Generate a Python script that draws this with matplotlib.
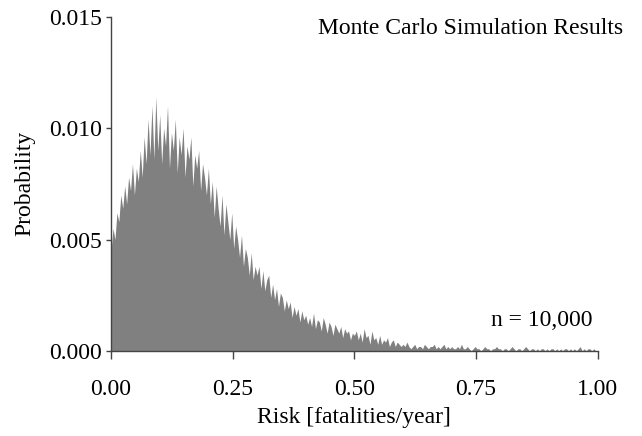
import numpy as np
import matplotlib
matplotlib.use("Agg")
import matplotlib.pyplot as plt

plt.rcParams['font.family'] = ['Liberation Serif', 'DejaVu Serif']

# risk values (bin centres) and probabilities, in units of 1e-4
risk = np.linspace(0.0, 1.0, 251)
prob_e4 = [
    45, 55, 50, 62, 58, 70, 64, 74, 66, 78, 72, 84, 70, 82, 76, 90, 78, 96, 84, 104, 88, 110, 86, 114, 90,
    106, 84, 100, 92, 110, 82, 98, 90, 104, 80, 96, 88, 100, 78, 92, 86, 96, 74, 88, 82, 90, 72, 84, 78, 70,
    82, 66, 76, 60, 74, 64, 56, 70, 52, 66, 58, 50, 62, 46, 56, 50, 42, 52, 38, 46, 42, 34, 44, 32, 38,
    34, 38, 28, 36, 27, 32, 34, 24, 30, 23, 28, 20, 26, 24, 18, 23, 19, 22, 15, 20, 16, 19, 13, 18, 14,
    16, 12, 15, 11, 17, 10, 14, 13, 9, 15, 12, 8, 13, 11, 7, 12, 10, 8, 11, 6, 10, 8, 9, 5, 8,
    7, 9, 5, 8, 4, 10, 6, 7, 3, 9, 5, 6, 3, 7, 3, 5, 4, 6, 2, 4, 5, 2, 4, 3, 2,
    3, 2, 4, 2, 1, 2, 3, 1, 2, 2, 1, 3, 2, 1, 2, 2, 3, 1, 2, 1, 2, 3, 1, 2, 1,
    2, 1, 1, 2, 1, 3, 1, 1, 2, 1, 0, 1, 2, 1, 1, 0, 1, 2, 1, 1, 0, 1, 1, 2, 1,
    1, 0, 1, 1, 0, 1, 2, 1, 0, 1, 1, 0, 1, 2, 1, 0, 1, 1, 0, 1, 0, 1, 1, 0, 1,
    0, 1, 1, 0, 1, 0, 1, 0, 1, 1, 0, 1, 0, 1, 0, 1, 2, 0, 1, 0, 1, 1, 0, 1, 0,
    0,
]
prob = np.array(prob_e4) * 1e-4

x_ticks = [0.0, 0.25, 0.5, 0.75, 1.0]
y_ticks = [0.0, 0.005, 0.010, 0.015]

fig = plt.figure(figsize=(6.42, 4.36), dpi=100)
ax = fig.add_axes([0.173, 0.195, 0.758, 0.767])

ax.fill_between(risk, 0, prob, color='#808080', linewidth=0)

ax.set_xlim(0, 1.0)
ax.set_ylim(0, 0.015)
ax.set_xticks(x_ticks)
ax.set_yticks(y_ticks)
ax.set_xticklabels([f"{t:.2f}" for t in x_ticks])
ax.set_yticklabels([f"{t:.3f}" for t in y_ticks])

for s in ['top', 'right']:
    ax.spines[s].set_visible(False)
for s in ['left', 'bottom']:
    ax.spines[s].set_color('#444444')
    ax.spines[s].set_linewidth(1.0)

ax.tick_params(axis='x', length=5.5, width=1, color='#444444', labelsize=17, pad=15)
ax.tick_params(axis='y', length=3.5, width=1, color='#444444', labelsize=17, pad=3)

ax.set_xlabel("Risk [fatalities/year]", fontsize=17, labelpad=5)
ax.set_ylabel("Probability", fontsize=17, labelpad=10)

fig.text(0.97, 0.935, "Monte Carlo Simulation Results", ha='right', va='center', fontsize=17)
ax.text(0.99, 0.09, "n = 10,000", transform=ax.transAxes, ha='right', va='center', fontsize=17)

fig.savefig("out.png", dpi=100)
